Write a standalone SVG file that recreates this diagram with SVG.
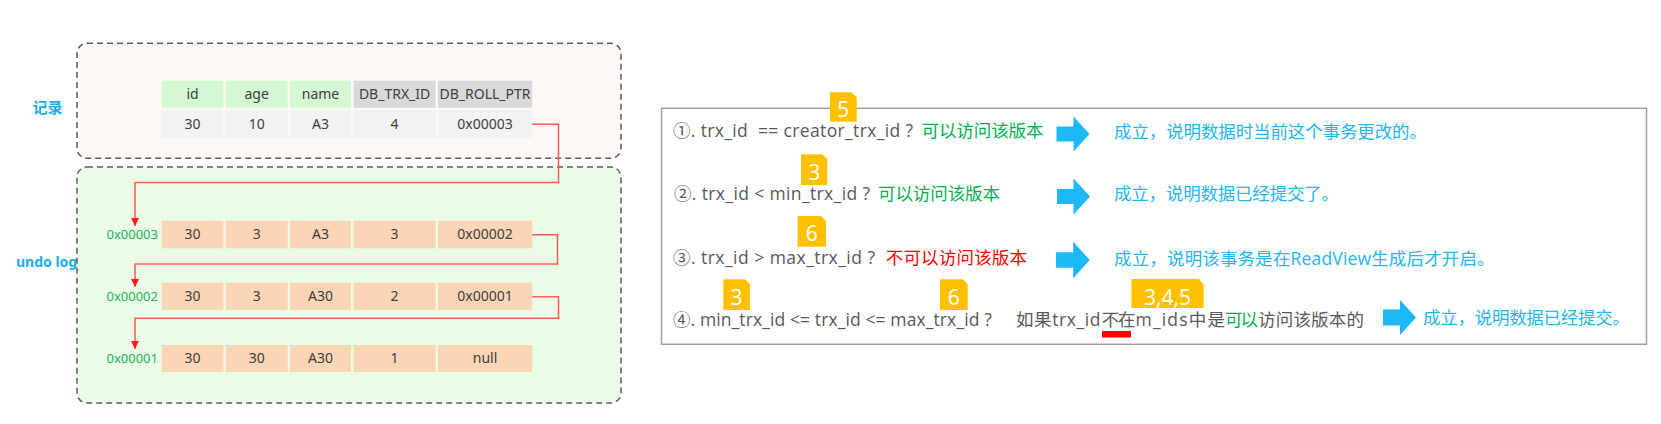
<svg xmlns="http://www.w3.org/2000/svg" width="1661" height="424" viewBox="0 0 1661 424">
<defs>
<style>
.box{stroke:#5a5a5a;stroke-width:1.5;stroke-dasharray:6 4}
.hg{fill:#d3f8d3}
.hd{fill:#d9d9d9}
.dr{fill:#f2f2f2}
.ur{fill:#fbd5b5}
.ct{font-family:"Noto Sans","Noto Sans CJK SC",sans-serif;font-size:14px;fill:#404040;text-anchor:middle}
.addr{font-family:"Noto Sans",sans-serif;font-size:13px;fill:#22b35e;text-anchor:end}
.lbl{font-family:"Noto Sans","Noto Sans CJK SC",sans-serif;font-weight:bold;fill:#1aaeef}
.conn{fill:none;stroke:#ff5a5a;stroke-width:1.5}
.pt{font-family:"Open Sans","Noto Sans CJK SC",sans-serif;font-size:17.5px;fill:#595959;white-space:pre}
.g{fill:#00b050}
.r{fill:#ff0000}
.bt{font-family:"Open Sans","Noto Sans CJK SC",sans-serif;font-size:17.5px;fill:#25b5ee}
.arr{fill:#1cb8f7}
.badge{fill:#ffc000}
.bn{font-family:"Open Sans",sans-serif;font-size:21px;fill:#ffffff;text-anchor:middle}
</style>
<marker id="ah" viewBox="0 0 8 8" refX="8" refY="4" markerWidth="8" markerHeight="8" markerUnits="userSpaceOnUse" orient="auto">
<path d="M0,0 L8,4 L0,8 z" fill="#ff1a1a"/>
</marker>
</defs>
<rect width="1661" height="424" fill="#ffffff"/>

<g id="record-box">
<rect class="box" x="77" y="43.3" width="544" height="115" rx="10" fill="#fdf8f5"/>
<text class="lbl" x="32.5" y="113" font-size="15">记录</text>
</g>

<g id="undo-box">
<rect class="box" x="77" y="167" width="544" height="236" rx="10" fill="#eafce5"/>
<text class="lbl" x="16" y="267" font-size="14">undo log</text>
</g>

<g id="record-header">
<rect class="hg" x="161.7" y="80.7" width="61.7" height="27"/>
<rect class="hg" x="225.7" y="80.7" width="62" height="27"/>
<rect class="hg" x="290" y="80.7" width="61" height="27"/>
<rect class="hd" x="353.6" y="80.7" width="82" height="27"/>
<rect class="hd" x="437.9" y="80.7" width="94.3" height="27"/>
<text class="ct" x="192.5" y="98.5">id</text>
<text class="ct" x="256.7" y="98.5">age</text>
<text class="ct" x="320.5" y="98.5">name</text>
<text class="ct" x="394.6" y="98.5">DB_TRX_ID</text>
<text class="ct" x="485" y="98.5">DB_ROLL_PTR</text>
</g>

<g id="record-row">
<rect class="dr" x="161.7" y="110" width="61.7" height="27.7"/>
<rect class="dr" x="225.7" y="110" width="62" height="27.7"/>
<rect class="dr" x="290" y="110" width="61" height="27.7"/>
<rect class="dr" x="353.6" y="110" width="82" height="27.7"/>
<rect class="dr" x="437.9" y="110" width="94.3" height="27.7"/>
<text class="ct" x="192.5" y="128.5">30</text>
<text class="ct" x="256.7" y="128.5">10</text>
<text class="ct" x="320.5" y="128.5">A3</text>
<text class="ct" x="394.6" y="128.5">4</text>
<text class="ct" x="485" y="128.5">0x00003</text>
</g>

<g id="undo-0x00003">
<text class="addr" x="158" y="238.5">0x00003</text>
<rect class="ur" x="161.7" y="220.7" width="61.7" height="27.6"/>
<rect class="ur" x="225.7" y="220.7" width="62" height="27.6"/>
<rect class="ur" x="290" y="220.7" width="61" height="27.6"/>
<rect class="ur" x="353.6" y="220.7" width="82" height="27.6"/>
<rect class="ur" x="437.9" y="220.7" width="94.3" height="27.6"/>
<text class="ct" x="192.5" y="239.3">30</text>
<text class="ct" x="256.7" y="239.3">3</text>
<text class="ct" x="320.5" y="239.3">A3</text>
<text class="ct" x="394.6" y="239.3">3</text>
<text class="ct" x="485" y="239.3">0x00002</text>
</g>

<g id="undo-0x00002">
<text class="addr" x="158" y="300.5">0x00002</text>
<rect class="ur" x="161.7" y="282.7" width="61.7" height="27.3"/>
<rect class="ur" x="225.7" y="282.7" width="62" height="27.3"/>
<rect class="ur" x="290" y="282.7" width="61" height="27.3"/>
<rect class="ur" x="353.6" y="282.7" width="82" height="27.3"/>
<rect class="ur" x="437.9" y="282.7" width="94.3" height="27.3"/>
<text class="ct" x="192.5" y="301">30</text>
<text class="ct" x="256.7" y="301">3</text>
<text class="ct" x="320.5" y="301">A30</text>
<text class="ct" x="394.6" y="301">2</text>
<text class="ct" x="485" y="301">0x00001</text>
</g>

<g id="undo-0x00001">
<text class="addr" x="158" y="362.5">0x00001</text>
<rect class="ur" x="161.7" y="345" width="61.7" height="27"/>
<rect class="ur" x="225.7" y="345" width="62" height="27"/>
<rect class="ur" x="290" y="345" width="61" height="27"/>
<rect class="ur" x="353.6" y="345" width="82" height="27"/>
<rect class="ur" x="437.9" y="345" width="94.3" height="27"/>
<text class="ct" x="192.5" y="363.3">30</text>
<text class="ct" x="256.7" y="363.3">30</text>
<text class="ct" x="320.5" y="363.3">A30</text>
<text class="ct" x="394.6" y="363.3">1</text>
<text class="ct" x="485" y="363.3">null</text>
</g>

<g id="connectors">
<path class="conn" d="M532.2,124.3 H558.5 V182.5 H135 V226" marker-end="url(#ah)"/>
<path class="conn" d="M532.2,234.7 H557.5 V264 H135 V287" marker-end="url(#ah)"/>
<path class="conn" d="M532.2,296.7 H558.5 V318.3 H135 V349" marker-end="url(#ah)"/>
</g>

<g id="rules-panel">
<rect x="661.5" y="108.3" width="985" height="236" fill="#ffffff" stroke="#a0a0a0" stroke-width="1.5"/>
</g>

<g id="rule-1">
<text class="pt" y="137"><tspan x="673" textLength="240" lengthAdjust="spacing">①. trx_id  == creator_trx_id ?</tspan><tspan class="g" x="921.5" textLength="122" lengthAdjust="spacing">可以访问该版本</tspan></text>
<path class="badge" d="M830,92.3 h21.7 l5,5 v24.4 h-26.7 z"/>
<text class="bn" x="843.3" y="116.7">5</text>
<path class="arr" d="M1056.5,126.5 h17 v-10 l16,17.5 l-16,17.5 v-10 h-17 z"/>
<text class="bt" x="1114" y="137.5" textLength="313" lengthAdjust="spacing">成立，说明数据时当前这个事务更改的。</text>
</g>

<g id="rule-2">
<text class="pt" y="200"><tspan x="674" textLength="196" lengthAdjust="spacing">②. trx_id &lt; min_trx_id ?</tspan><tspan class="g" x="878" textLength="122" lengthAdjust="spacing">可以访问该版本</tspan></text>
<path class="badge" d="M801,154.3 h21.3 l5,5 v25.7 h-26.3 z"/>
<text class="bn" x="814.2" y="179.5">3</text>
<path class="arr" d="M1057,189 h16.5 v-10.5 l16.5,18 l-16.5,18 v-10.5 h-16.5 z"/>
<text class="bt" x="1114" y="200" textLength="225" lengthAdjust="spacing">成立，说明数据已经提交了。</text>
</g>

<g id="rule-3">
<text class="pt" y="263.5"><tspan x="673" textLength="202" lengthAdjust="spacing">③. trx_id &gt; max_trx_id ?</tspan><tspan class="r" x="885.7" textLength="141.3" lengthAdjust="spacing">不可以访问该版本</tspan></text>
<path class="badge" d="M797.7,216 h23.3 l5,5 v25.7 h-28.3 z"/>
<text class="bn" x="811.8" y="241">6</text>
<path class="arr" d="M1056,252.2 h17.2 v-10.5 l16.5,18.3 l-16.5,18.3 v-10.5 h-17.2 z"/>
<text class="bt" x="1114" y="265" textLength="380.6" lengthAdjust="spacing">成立，说明该事务是在ReadView生成后才开启。</text>
</g>

<g id="rule-4">
<text class="pt" y="326"><tspan x="673" textLength="318.7" lengthAdjust="spacing">④. min_trx_id &lt;= trx_id &lt;= max_trx_id ?</tspan><tspan x="1016" textLength="84.5" lengthAdjust="spacing">如果trx_id</tspan><tspan x="1101.8" textLength="33.7" lengthAdjust="spacing">不在</tspan><tspan x="1135.5" textLength="89.5" lengthAdjust="spacing">m_ids中是</tspan><tspan class="g" x="1225" textLength="33" lengthAdjust="spacing">可以</tspan><tspan x="1258" textLength="106" lengthAdjust="spacing">访问该版本的</tspan></text>
<rect x="1102" y="331" width="29" height="6.5" fill="#ff0000"/>
<path class="badge" d="M723.3,279.3 h21.7 l5,5 v25.7 h-26.7 z"/>
<text class="bn" x="736.6" y="304.5">3</text>
<path class="badge" d="M940,279.3 h22.7 l5,5 v25.7 h-27.7 z"/>
<text class="bn" x="953.8" y="304.5">6</text>
<path class="badge" d="M1131.4,279 h67.2 l5,5 v24 h-72.2 z"/>
<text class="bn" x="1167.5" y="304.5" font-size="23">3,4,5</text>
<path class="arr" d="M1383,309.5 h17 v-9.5 l16,17.5 l-16,17.5 v-9.5 h-17 z"/>
<text class="bt" x="1423" y="324" textLength="207" lengthAdjust="spacing">成立，说明数据已经提交。</text>
</g>
</svg>
